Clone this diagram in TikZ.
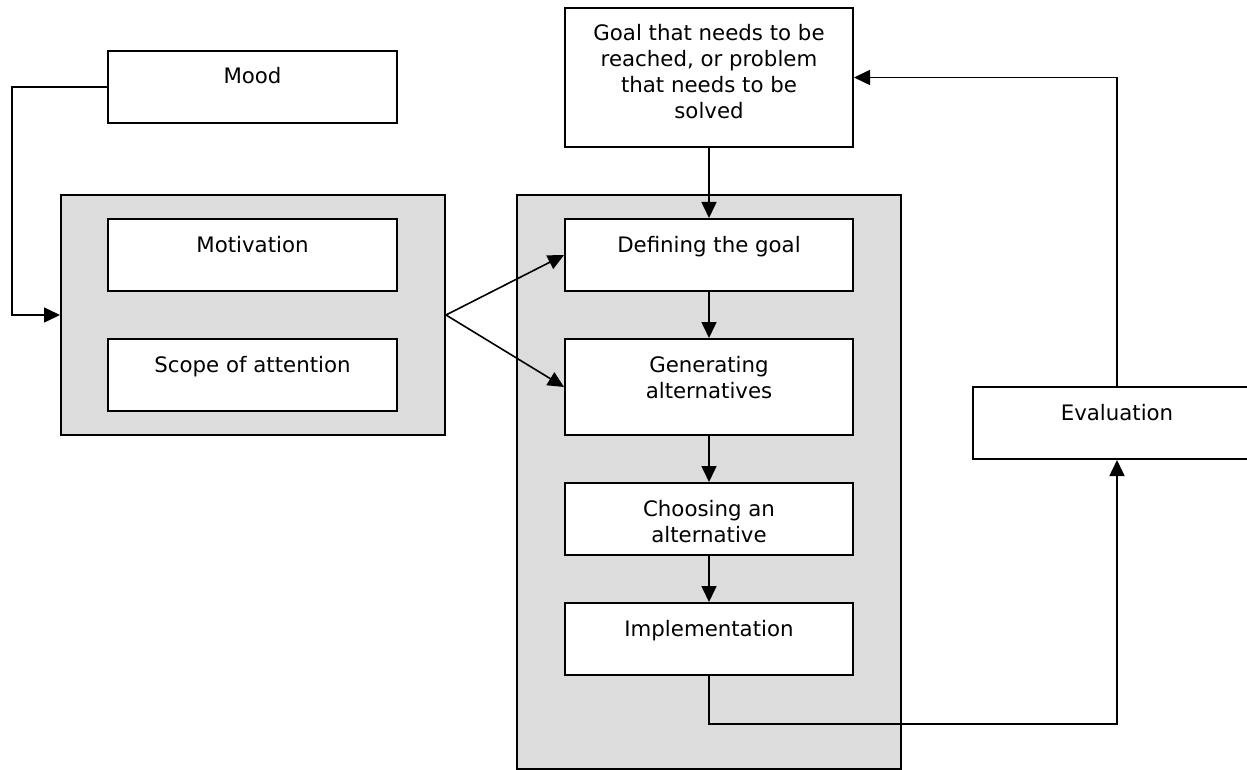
\documentclass[tikz,border=0pt]{standalone}
\usepackage{fontspec}
\setmainfont{DejaVu Sans}
\usepackage{tikz}
\usetikzlibrary{arrows.meta, positioning, calc}

\definecolor{panelgray}{RGB}{220,220,220}
\newcommand{\stagetext}[3]{\parbox[c][#2][t]{#1}{\centering\rule{0pt}{33pt}#3}}

\begin{document}
\begin{tikzpicture}[
    x=1pt, y=-1pt,
    panel/.style={rectangle, draw=black, line width=2pt, fill=panelgray, inner sep=0pt, anchor=north west},
    stage/.style={rectangle, draw=black, line width=2pt, fill=white, inner sep=0pt, anchor=north west, font=\fontsize{21.3}{26}\selectfont},
    arrow/.style={-{Triangle[length=16pt, width=15pt]}, line width=1.6pt}
]
\useasboundingbox (0,0) rectangle (1247,770);
\clip (0,0) rectangle (1247,770);

% Grey panels
\node[panel, minimum width=384pt, minimum height=240pt] (leftpanel) at (60,194) {};
\node[panel, minimum width=384pt, minimum height=574pt] (midpanel) at (516,194) {};

% Boxes
\node[stage] (mood) at (107,50) {\stagetext{289pt}{72pt}{Mood}};
\node[stage] (motivation) at (107,218) {\stagetext{289pt}{72pt}{Motivation}};
\node[stage] (scope) at (107,338) {\stagetext{289pt}{72pt}{Scope of attention}};
\node[stage] (goal) at (564,7) {\stagetext{288pt}{139pt}{Goal that needs to be\\reached, or problem\\that needs to be\\solved}};
\node[stage] (defining) at (564,218) {\stagetext{288pt}{72pt}{Defining the goal}};
\node[stage] (generating) at (564,338) {\stagetext{288pt}{96pt}{Generating\\alternatives}};
\node[stage] (choosing) at (564,482) {\stagetext{288pt}{72pt}{Choosing an\\alternative}};
\node[stage] (implementation) at (564,602) {\stagetext{288pt}{72pt}{Implementation}};
\node[stage] (evaluation) at (972,386) {\stagetext{288pt}{72pt}{Evaluation}};

% Arrows
\draw[arrow] (mood.west) -- ++(-95,0) |- (leftpanel.west);
\draw[arrow] (leftpanel.east) -- (defining.west);
\draw[arrow] (leftpanel.east) -- (generating.west);
\draw[arrow] (goal.south) -- (defining.north);
\draw[arrow] (defining.south) -- (generating.north);
\draw[arrow] (generating.south) -- (choosing.north);
\draw[arrow] (choosing.south) -- (implementation.north);
\draw[arrow] (implementation.south) -- ++(0,48) -| (evaluation.south);
\draw[arrow] (evaluation.north) |- (goal.east);

\end{tikzpicture}
\end{document}
